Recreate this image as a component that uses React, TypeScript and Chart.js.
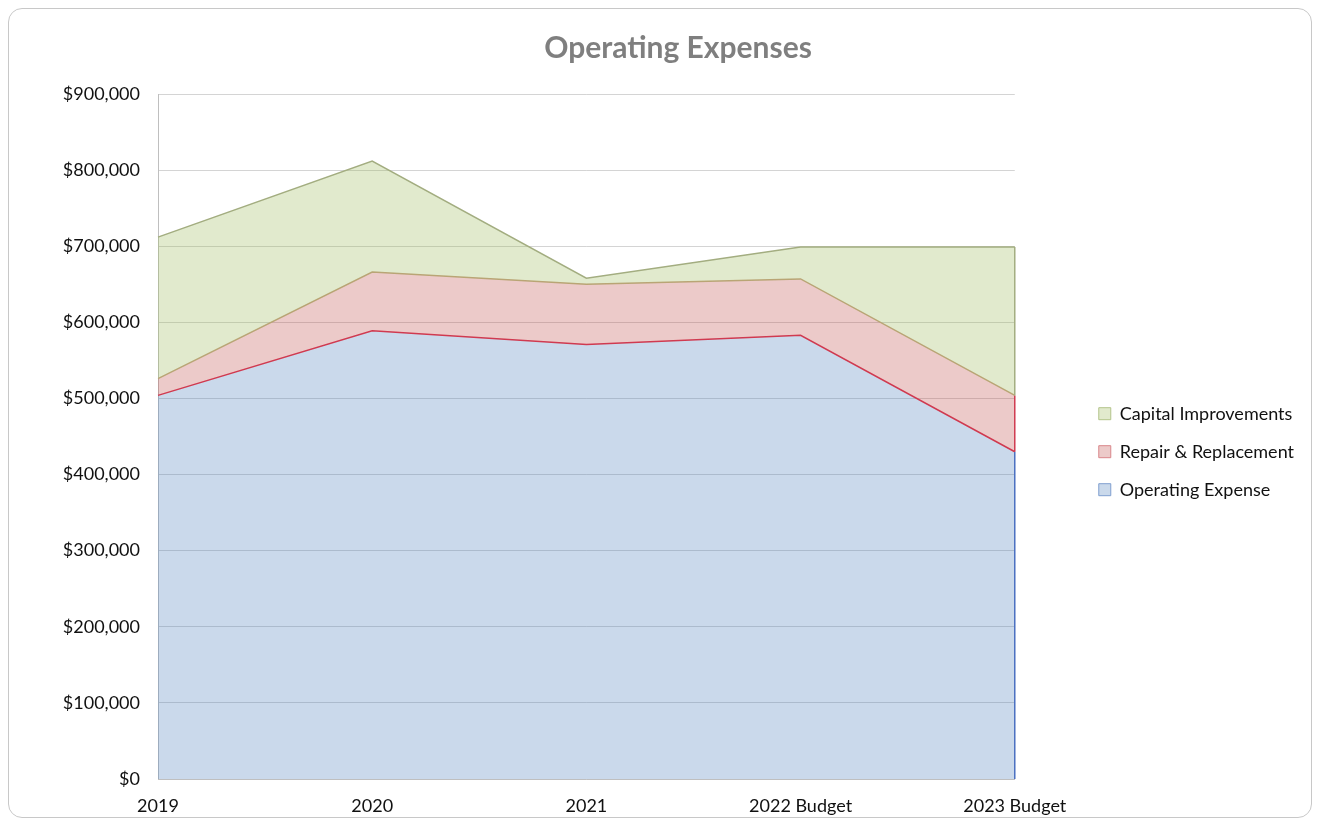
import React, { useEffect, useRef } from "react";
import { Chart, registerables } from "chart.js";

Chart.register(...registerables);

const categories = ["2019", "2020", "2021", "2022 Budget", "2023 Budget"];
const operatingExpense = [504000, 589000, 571000, 583000, 430000];
const repairReplacement = [22000, 77000, 79000, 74000, 74000];
const capitalImprovements = [186000, 146000, 8000, 42000, 195000];
const yTicks = [0, 100000, 200000, 300000, 400000, 500000, 600000, 700000, 800000, 900000];

const FONT = "Lato, 'Open Sans', sans-serif";
const edgeColors = ["#4a6fc0", "#d03a50", "#a3ad80"];

const edgePlugin = {
  id: "areaEdge",
  afterDatasetsDraw(chart: any) {
    const x = chart.scales.x;
    const y = chart.scales.y;
    const last = categories.length - 1;
    const px = x.getPixelForValue(last);
    const ctx = chart.ctx;
    let base = 0;
    chart.data.datasets.forEach((ds: any, i: number) => {
      const top = base + ds.data[last];
      ctx.save();
      ctx.strokeStyle = edgeColors[i];
      ctx.lineWidth = 1.5;
      ctx.beginPath();
      ctx.moveTo(px, y.getPixelForValue(base));
      ctx.lineTo(px, y.getPixelForValue(top));
      ctx.stroke();
      ctx.restore();
      base = top;
    });
  },
};

export default function App() {
  const ref = useRef<HTMLCanvasElement | null>(null);

  useEffect(() => {
    if (!ref.current) return;
    const legendStroke = ["#7f9fcf", "#d9868a", "#b3c48a"];
    const chart = new Chart(ref.current, {
      type: "line",
      data: {
        labels: categories,
        datasets: [
          {
            label: "Operating Expense",
            data: operatingExpense,
            fill: "origin",
            backgroundColor: "rgba(79,129,189,0.3)",
            borderColor: "#d03a50",
            borderWidth: 1.5,
            pointRadius: 0,
            tension: 0,
          },
          {
            label: "Repair & Replacement",
            data: repairReplacement,
            fill: "-1",
            backgroundColor: "rgba(192,80,77,0.3)",
            borderColor: "#b9a575",
            borderWidth: 1.5,
            pointRadius: 0,
            tension: 0,
          },
          {
            label: "Capital Improvements",
            data: capitalImprovements,
            fill: "-1",
            backgroundColor: "rgba(155,187,89,0.3)",
            borderColor: "#a3ad80",
            borderWidth: 1.5,
            pointRadius: 0,
            tension: 0,
          },
        ],
      },
      plugins: [edgePlugin],
      options: {
        animation: false,
        responsive: true,
        maintainAspectRatio: false,
        layout: { padding: { left: 43, right: 7, top: 6, bottom: 0 } },
        plugins: {
          title: {
            display: true,
            text: "Operating Expenses",
            color: "#7f7f7f",
            font: { family: FONT, size: 30, weight: "bold" },
            padding: { top: 15, bottom: 28 },
          },
          legend: {
            position: "right",
            reverse: true,
            maxWidth: 400,
            title: { display: true, text: " ", font: { size: 12 }, padding: 28.5 },
            labels: {
              color: "#111",
              font: { family: FONT, size: 18 },
              boxWidth: 12,
              boxHeight: 12,
              padding: 20,
              generateLabels: (c: any) => {
                const items = Chart.defaults.plugins.legend.labels.generateLabels(c);
                return items.map((it: any) => ({
                  ...it,
                  strokeStyle: legendStroke[it.datasetIndex],
                  lineWidth: 1,
                }));
              },
            },
          },
          tooltip: { enabled: false },
        },
        scales: {
          x: {
            offset: false,
            grid: { display: false },
            border: { display: true, color: "#bfbfbf" },
            ticks: { color: "#111", font: { family: FONT, size: 18 }, maxRotation: 0, padding: 8 },
            afterFit: (s: any) => {
              s.height = 38;
            },
          },
          y: {
            stacked: true,
            min: 0,
            max: 900000,
            afterBuildTicks: (s: any) => {
              s.ticks = yTicks.map((v) => ({ value: v }));
            },
            grid: { color: "#d4d4d4", drawTicks: false },
            border: { display: true, color: "#bfbfbf" },
            ticks: {
              color: "#111",
              font: { family: FONT, size: 18 },
              padding: 18,
              callback: (v: any) => "$" + Number(v).toLocaleString("en-US"),
            },
            afterFit: (s: any) => {
              s.width = 106;
            },
          },
          gap: {
            type: "linear",
            position: "right",
            display: true,
            grid: { display: false, drawTicks: false },
            border: { display: false },
            ticks: { display: false },
            afterFit: (s: any) => {
              s.width = 64;
            },
          },
        },
      },
    });
    return () => chart.destroy();
  }, []);

  return (
    <div
      style={{
        position: "relative",
        width: 1304,
        height: 810,
        border: "1px solid #c8c8c8",
        borderRadius: 14,
        boxSizing: "border-box",
        background: "#fff",
      }}
    >
      <canvas ref={ref} />
    </div>
  );
}
